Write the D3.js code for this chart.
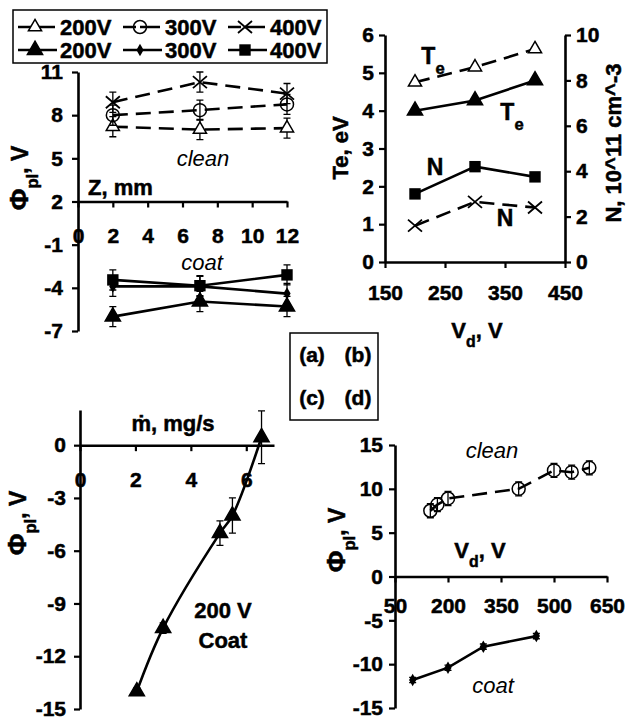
<!DOCTYPE html>
<html>
<head>
<meta charset="utf-8">
<script src="https://cdnjs.cloudflare.com/ajax/libs/d3/7.8.5/d3.min.js"></script>
<style>
  body { margin: 0; background: #fff; }
  svg text { font-family: "Liberation Sans", Arial, sans-serif; font-weight: bold; fill: #000; stroke: #000; stroke-width: 0.5px; }
  svg text.it { font-style: italic; font-weight: normal; stroke: none; }
</style>
</head>
<body>
<div id="chart"></div>
<script>
// ---- data ----
// (a) plasma potential vs Z
const aZ = [2, 7, 12];
const aClean200 = [7.2, 7.0, 7.1];
const aClean300 = [8.0, 8.35, 8.75];
const aClean400 = [8.9, 10.3, 9.5];
const aCoat200 = [-6.0, -4.95, -5.3];
const aCoat300 = [-3.9, -3.9, -4.4];
const aCoat400 = [-3.45, -3.85, -3.1];
const aErr = [0.7, 0.7, 0.7];
const aTicksX = [0, 2, 4, 6, 8, 10, 12];
const aTicksY = [11, 8, 5, 2, -1, -4, -7];
const legendNames = ["200V", "300V", "400V"];

// (b) Te and N vs Vd
const bVd = [200, 300, 400];
const bTeClean = [4.75, 5.15, 5.63];
const bTeCoat = [4.0, 4.27, 4.8];
const bNCoat = [3.0, 4.2, 3.75];
const bNClean = [1.6, 2.65, 2.4];
const bTicksX = [150, 250, 350, 450];
const bTicksTe = [0, 1, 2, 3, 4, 5, 6];
const bTicksN = [0, 2, 4, 6, 8, 10];

// (c) plasma potential vs mass flow, 200 V coat
const cMdot = [2.05, 3.0, 5.05, 5.5, 6.55];
const cPhi = [-14.0, -10.4, -5.0, -4.0, 0.45];
const cErr = [0.2, 0.3, 0.7, 1.0, 1.5];
const cTicksX = [0, 2, 4, 6];
const cTicksY = [0, -3, -6, -9, -12, -15];

// (d) plasma potential vs Vd
const dVdClean = [150, 170, 200, 400, 500, 550, 600];
const dPhiClean = [7.5, 8.2, 8.9, 10.0, 12.1, 11.9, 12.4];
const dErrClean = [0.8, 0.8, 0.8, 0.8, 0.8, 0.8, 0.8];
const dVdCoat = [100, 200, 300, 450];
const dPhiCoat = [-11.8, -10.4, -8.0, -6.8];
const dErrCoat = [0.3, 0.3, 0.3, 0.3];
const dTicksX = [50, 200, 350, 500, 650];
const dTicksY = [15, 10, 5, 0, -5, -10, -15];

const W = 628, H = 721;
const FONT = '"Liberation Sans", Arial, sans-serif';
const fmt = d => String(d); // plain hyphen minus, like the original

const svg = d3.select("#chart").append("svg")
  .attr("width", W).attr("height", H);
svg.append("rect").attr("width", W).attr("height", H).attr("fill", "#fff");

// marker shapes
function drawMarker(g, type, px, py) {
  const sym = d3.symbol();
  if (type === "triOpen" || type === "tri") {
    g.append("path").attr("transform", `translate(${px},${py})`)
      .attr("d", sym.type(d3.symbolTriangle).size(type === "tri" ? 100 : 75)())
      .attr("fill", type === "tri" ? "#000" : "#fff").attr("stroke", "#000").attr("stroke-width", 1.5);
  } else if (type === "circOpen") {
    g.append("circle").attr("cx", px).attr("cy", py).attr("r", 6.5)
      .attr("fill", "none").attr("stroke", "#000").attr("stroke-width", 1.5);
  } else if (type === "x") {
    g.append("path").attr("transform", `translate(${px},${py})`)
      .attr("d", "M-7,-6L7,6M-7,6L7,-6")
      .attr("stroke", "#000").attr("stroke-width", 1.8);
  } else if (type === "sq") {
    g.append("path").attr("transform", `translate(${px},${py})`)
      .attr("d", sym.type(d3.symbolSquare).size(130)()).attr("fill", "#000");
  } else if (type === "dia") {
    g.append("path").attr("transform", `translate(${px},${py})`)
      .attr("d", sym.type(d3.symbolDiamond).size(45)()).attr("fill", "#000");
  }
}

// line + error bars + markers for one series
function drawSeries(g, x, y, xs, ys, errs, opt) {
  const pts = d3.zip(xs, ys);
  g.append("path").datum(pts)
    .attr("d", d3.line().x(d => x(d[0])).y(d => y(d[1])).curve(opt.curve || d3.curveLinear))
    .attr("fill", "none").attr("stroke", "#000").attr("stroke-width", 2.6)
    .attr("stroke-dasharray", opt.dash ? "15,8" : null);
  if (errs) {
    pts.forEach((p, i) => {
      const px = x(p[0]), y0 = y(p[1] - errs[i]), y1 = y(p[1] + errs[i]);
      g.append("path")
        .attr("d", `M${px},${y0}V${y1}M${px - 3.5},${y0}H${px + 3.5}M${px - 3.5},${y1}H${px + 3.5}`)
        .attr("stroke", "#000").attr("stroke-width", 1.3).attr("fill", "none");
    });
  }
  pts.forEach(p => drawMarker(g, opt.marker, x(p[0]), y(p[1])));
}

function styleAxis(g) {
  g.attr("font-family", FONT).attr("font-size", 21);
  g.select(".domain").attr("stroke-width", 2.6);
  g.selectAll(".tick line").attr("stroke-width", 2.2);
  g.selectAll(".tick text").attr("fill", "#000");
}

// text with a subscript part: parts = [[text, sub?], ...]
function richText(g, x, y, parts, size, opt = {}) {
  const t = g.append("text").attr("x", x).attr("y", y)
    .attr("font-size", size).attr("text-anchor", opt.anchor || "middle");
  if (opt.rotate) t.attr("transform", `rotate(-90,${x},${y})`);
  parts.forEach(p => {
    const s = t.append("tspan").text(p[0]);
    if (p[1] === "sub") s.attr("font-size", size * 0.72).attr("baseline-shift", "sub");
    if (p[1] === "big") s.attr("font-size", size * 1.15);
  });
  return t;
}

// ---------------- panel (a) ----------------
const gA = svg.append("g");
const xA = d3.scaleLinear().domain([0, 12]).range([78, 287]);
const yA = d3.scaleLinear().domain([-7, 11]).range([331, 72]);

gA.append("g").attr("transform", `translate(0,${yA(2)})`)
  .call(d3.axisBottom(xA).tickValues(aTicksX).tickFormat(fmt).tickSize(6).tickSizeOuter(0).tickPadding(21))
  .call(styleAxis);
gA.append("g").attr("transform", `translate(${xA(0)},0)`)
  .call(d3.axisLeft(yA).tickValues(aTicksY).tickFormat(fmt).tickSize(6).tickSizeOuter(0).tickPadding(9))
  .call(styleAxis);

drawSeries(gA, xA, yA, aZ, aClean200, aErr, { dash: true, marker: "triOpen" });
drawSeries(gA, xA, yA, aZ, aClean300, aErr, { dash: true, marker: "circOpen" });
drawSeries(gA, xA, yA, aZ, aClean400, aErr, { dash: true, marker: "x" });
drawSeries(gA, xA, yA, aZ, aCoat200, aErr, { marker: "tri" });
drawSeries(gA, xA, yA, aZ, aCoat300, aErr, { marker: "dia" });
drawSeries(gA, xA, yA, aZ, aCoat400, aErr, { marker: "sq" });

gA.append("text").attr("class", "it").attr("x", 203).attr("y", 166)
  .attr("text-anchor", "middle").attr("font-size", 22).text("clean");
gA.append("text").attr("class", "it").attr("x", 202).attr("y", 270)
  .attr("text-anchor", "middle").attr("font-size", 22).text("coat");
gA.append("text").attr("x", 88).attr("y", 195).attr("font-size", 22).text("Z, mm");
richText(gA, 28, 178, [["Φ", "big"], ["pl", "sub"], [", V"]], 23, { rotate: true });

// legend box
const leg = svg.append("g");
leg.append("rect").attr("x", 13).attr("y", 10).attr("width", 314).attr("height", 53)
  .attr("fill", "#fff").attr("stroke", "#000").attr("stroke-width", 1.5);
const legX = [18, 123, 228];
const legClean = ["triOpen", "circOpen", "x"];
const legCoat = ["tri", "dia", "sq"];
[[27, legClean, true], [50, legCoat, false]].forEach(row => {
  legendNames.forEach((name, i) => {
    const x0 = legX[i];
    leg.append("line").attr("x1", x0).attr("x2", x0 + 39).attr("y1", row[0]).attr("y2", row[0])
      .attr("stroke", "#000").attr("stroke-width", 2.4)
      .attr("stroke-dasharray", row[2] ? "13,4,20" : null);
    drawMarker(leg, row[1][i], x0 + 17, row[0]);
    leg.append("text").attr("x", x0 + 42).attr("y", row[0] + 8).attr("font-size", 22).text(name);
  });
});

// ---------------- panel (b) ----------------
const gB = svg.append("g");
const xB = d3.scaleLinear().domain([150, 450]).range([385, 565]);
const yB = d3.scaleLinear().domain([0, 6]).range([262, 35]);
const yB2 = d3.scaleLinear().domain([0, 10]).range([262, 35]);

gB.append("g").attr("transform", `translate(0,${yB(0)})`)
  .call(d3.axisBottom(xB).tickValues(bTicksX).tickFormat(fmt).tickSize(6).tickSizeOuter(0).tickPadding(17))
  .call(styleAxis);
gB.append("g").attr("transform", `translate(${xB(150)},0)`)
  .call(d3.axisLeft(yB).tickValues(bTicksTe).tickFormat(fmt).tickSize(6).tickSizeOuter(0).tickPadding(5))
  .call(styleAxis);
gB.append("g").attr("transform", `translate(${xB(450)},0)`)
  .call(d3.axisRight(yB2).tickValues(bTicksN).tickFormat(fmt).tickSize(6).tickSizeOuter(0).tickPadding(5))
  .call(styleAxis);

drawSeries(gB, xB, yB, bVd, bTeClean, null, { dash: true, marker: "triOpen" });
drawSeries(gB, xB, yB, bVd, bTeCoat, null, { marker: "tri" });
drawSeries(gB, xB, yB2, bVd, bNCoat, null, { marker: "sq" });
drawSeries(gB, xB, yB2, bVd, bNClean, null, { dash: true, marker: "x" });

richText(gB, 433, 64, [["T"], ["e", "sub"]], 23);
richText(gB, 512, 120, [["T"], ["e", "sub"]], 23);
gB.append("text").attr("x", 435).attr("y", 175).attr("text-anchor", "middle").attr("font-size", 23).text("N");
gB.append("text").attr("x", 505).attr("y", 226).attr("text-anchor", "middle").attr("font-size", 23).text("N");
richText(gB, 348, 148, [["Te, eV"]], 22, { rotate: true });
richText(gB, 621, 143, [["N, 10^11 cm^-3"]], 22, { rotate: true });
richText(gB, 477, 338, [["V"], ["d", "sub"], [", V"]], 22);

// (a)(b)(c)(d) box
const box = svg.append("g");
box.append("rect").attr("x", 290).attr("y", 333).attr("width", 88).attr("height", 87)
  .attr("fill", "#fff").attr("stroke", "#000").attr("stroke-width", 1.5);
[["(a)", 312, 362], ["(b)", 358, 362], ["(c)", 312, 405], ["(d)", 358, 405]].forEach(d => {
  box.append("text").attr("x", d[1]).attr("y", d[2]).attr("text-anchor", "middle")
    .attr("font-size", 21).text(d[0]);
});

// ---------------- panel (c) ----------------
const gC = svg.append("g");
const xC = d3.scaleLinear().domain([0, 7]).range([80, 274]);
const yC = d3.scaleLinear().domain([-15, 2]).range([709, 410]);

gC.append("g").attr("transform", `translate(0,${yC(0)})`)
  .call(d3.axisBottom(xC).tickValues(cTicksX).tickFormat(fmt).tickSize(6).tickSizeOuter(0).tickPadding(21))
  .call(styleAxis);
gC.append("g").attr("transform", `translate(${xC(0)},0)`)
  .call(d3.axisLeft(yC).tickValues(cTicksY).tickFormat(fmt).tickSize(6).tickSizeOuter(0).tickPadding(8))
  .call(styleAxis);

drawSeries(gC, xC, yC, cMdot, cPhi, cErr, { marker: "tri", curve: d3.curveCatmullRom });

richText(gC, 173, 431, [["ṁ, mg/s"]], 22);
gC.append("text").attr("x", 223).attr("y", 618).attr("text-anchor", "middle").attr("font-size", 22).text("200 V");
gC.append("text").attr("x", 223).attr("y", 648).attr("text-anchor", "middle").attr("font-size", 22).text("Coat");
richText(gC, 26, 523, [["Φ", "big"], ["pl", "sub"], [", V"]], 23, { rotate: true });

// ---------------- panel (d) ----------------
const gD = svg.append("g");
const xD = d3.scaleLinear().domain([50, 650]).range([395, 607]);
const yD = d3.scaleLinear().domain([-15, 15]).range([708, 445]);

gD.append("g").attr("transform", `translate(0,${yD(0)})`)
  .call(d3.axisBottom(xD).tickValues(dTicksX).tickFormat(fmt).tickSize(6).tickSizeOuter(0).tickPadding(16))
  .call(styleAxis);
gD.append("g").attr("transform", `translate(${xD(50)},0)`)
  .call(d3.axisLeft(yD).tickValues(dTicksY).tickFormat(fmt).tickSize(6).tickSizeOuter(0).tickPadding(6))
  .call(styleAxis);

drawSeries(gD, xD, yD, dVdClean, dPhiClean, dErrClean, { dash: true, marker: "circOpen" });
drawSeries(gD, xD, yD, dVdCoat, dPhiCoat, dErrCoat, { marker: "dia" });

gD.append("text").attr("class", "it").attr("x", 492).attr("y", 458)
  .attr("text-anchor", "middle").attr("font-size", 22).text("clean");
gD.append("text").attr("class", "it").attr("x", 493).attr("y", 693)
  .attr("text-anchor", "middle").attr("font-size", 22).text("coat");
richText(gD, 480, 558, [["V"], ["d", "sub"], [", V"]], 22);
richText(gD, 345, 540, [["Φ", "big"], ["pl", "sub"], [", V"]], 23, { rotate: true });
</script>
</body>
</html>
